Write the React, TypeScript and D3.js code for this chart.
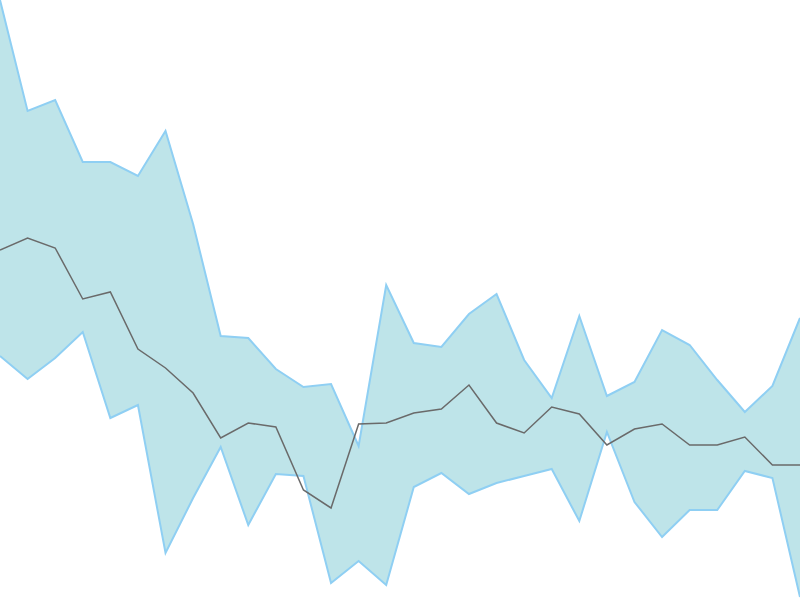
import React, { useEffect, useRef } from "react";
import * as d3 from "d3";

// band upper / lower bounds and the central line, one value per step
const upper = [600, 489, 500, 438, 438, 424, 469, 376, 264, 262, 231, 213, 216, 154, 315, 257, 253, 286, 306, 240, 202, 284, 204, 218, 270, 255, 220, 188, 214, 282];
const lower = [244, 221, 242, 268, 182, 195, 47, 102, 153, 75, 126, 124, 17, 39, 15, 113, 127, 106, 117, 124, 131, 79, 168, 98, 63, 90, 90, 129, 122, 3];
const middle = [350, 362, 352, 301, 308, 251, 232, 207, 162, 177, 173, 110, 92, 176, 177, 187, 191, 215, 177, 167, 193, 186, 155, 171, 176, 155, 155, 163, 135, 135];

const width = 800;
const height = 600;

const App: React.FC = () => {
  const svgRef = useRef<SVGSVGElement | null>(null);

  useEffect(() => {
    if (!svgRef.current) return;
    const svg = d3.select(svgRef.current);
    svg.selectAll("*").remove();

    const x = d3.scaleLinear().domain([0, upper.length - 1]).range([0, width]);
    const y = d3.scaleLinear().domain([0, 600]).range([height, 0]);

    const idx = d3.range(upper.length);

    const area = d3.area<number>()
      .x(i => x(i))
      .y0(i => y(lower[i]))
      .y1(i => y(upper[i]));

    const upperLine = d3.line<number>().x(i => x(i)).y(i => y(upper[i]));
    const lowerLine = d3.line<number>().x(i => x(i)).y(i => y(lower[i]));
    const midLine = d3.line<number>().x(i => x(i)).y(i => y(middle[i]));

    svg.append("path")
      .attr("d", area(idx)!)
      .attr("fill", "#bee4e9");

    [upperLine, lowerLine].forEach(l => {
      svg.append("path")
        .attr("d", l(idx)!)
        .attr("fill", "none")
        .attr("stroke", "#8fcff3")
        .attr("stroke-width", 2);
    });

    svg.append("path")
      .attr("d", midLine(idx)!)
      .attr("fill", "none")
      .attr("stroke", "#6a6a6a")
      .attr("stroke-width", 1.5);
  }, []);

  return (
    <svg
      ref={svgRef}
      width={width}
      height={height}
      style={{ position: "absolute", left: 0, top: 0, background: "#fff" }}
    />
  );
};

export default App;
